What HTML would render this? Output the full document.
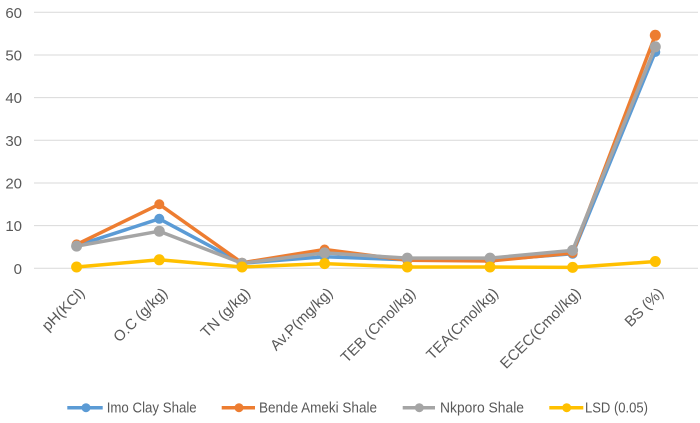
<!DOCTYPE html>
<html><head><meta charset="utf-8"><style>
html,body{margin:0;padding:0;background:#fff;}
svg{display:block;}
text{font-family:"Liberation Sans",sans-serif;fill:#595959;}
</style></head><body>
<svg width="700" height="423" viewBox="0 0 700 423" xmlns="http://www.w3.org/2000/svg">
<g stroke="#d9d9d9" stroke-width="1">
<line x1="34" y1="12.3" x2="698" y2="12.3"/>
<line x1="34" y1="55" x2="698" y2="55"/>
<line x1="34" y1="97.6" x2="698" y2="97.6"/>
<line x1="34" y1="140.3" x2="698" y2="140.3"/>
<line x1="34" y1="183" x2="698" y2="183"/>
<line x1="34" y1="225.6" x2="698" y2="225.6"/>
<line x1="34" y1="268.3" x2="698" y2="268.3"/>
</g>
<g font-size="15" text-anchor="end">
<text x="22" y="17.8">60</text>
<text x="22" y="60.5">50</text>
<text x="22" y="103.1">40</text>
<text x="22" y="145.8">30</text>
<text x="22" y="188.5">20</text>
<text x="22" y="231.1">10</text>
<text x="22" y="273.8">0</text>
</g>
<g font-size="15" text-anchor="end">
<text transform="translate(85.6,294) rotate(-45)">pH(KCl)</text>
<text transform="translate(168.3,294) rotate(-45)">O.C (g/kg)</text>
<text transform="translate(251,294) rotate(-45)">TN (g/kg)</text>
<text transform="translate(333.6,294) rotate(-45)">Av.P(mg/kg)</text>
<text transform="translate(416.3,294) rotate(-45)">TEB (Cmol/kg)</text>
<text transform="translate(499,294) rotate(-45)">TEA(Cmol/kg)</text>
<text transform="translate(581.6,294) rotate(-45)">ECEC(Cmol/kg)</text>
<text transform="translate(664.3,294) rotate(-45)">BS (%)</text>
</g>
<!-- Blue: Imo Clay Shale -->
<g stroke="#5B9BD5" fill="#5B9BD5">
<polyline fill="none" stroke-width="3.5" stroke-linejoin="round" points="76.6,245.7 159.3,218.8 242,263.2 324.6,256.8 407.3,259.8 490,260.2 572.6,253.8 655.3,52"/>
<g stroke="none">
<circle cx="76.6" cy="245.7" r="5"/><circle cx="159.3" cy="218.8" r="5"/><circle cx="242" cy="263.2" r="5"/><circle cx="324.6" cy="256.8" r="5"/><circle cx="407.3" cy="259.8" r="5"/><circle cx="490" cy="260.2" r="5"/><circle cx="572.6" cy="253.8" r="5"/><circle cx="655.3" cy="52" r="5"/>
</g></g>
<!-- Orange: Bende Ameki Shale -->
<g stroke="#ED7D31" fill="#ED7D31">
<polyline fill="none" stroke-width="3.5" stroke-linejoin="round" points="76.6,244.4 159.3,204.3 242,262.8 324.6,249.5 407.3,260.2 490,261 572.6,253 655.3,35.3"/>
<g stroke="none">
<circle cx="76.6" cy="244.4" r="5"/><circle cx="159.3" cy="204.3" r="5"/><circle cx="242" cy="262.8" r="5"/><circle cx="324.6" cy="249.5" r="5"/><circle cx="407.3" cy="260.2" r="5"/><circle cx="490" cy="261" r="5"/><circle cx="572.6" cy="253" r="5"/><circle cx="655.3" cy="35.3" r="5.5"/>
</g></g>
<!-- Grey: Nkporo Shale -->
<g stroke="#A5A5A5" fill="#A5A5A5">
<polyline fill="none" stroke-width="3.5" stroke-linejoin="round" points="76.6,246.1 159.3,231.2 242,263.2 324.6,252.9 407.3,258.1 490,258.1 572.6,250.4 655.3,46.8"/>
<g stroke="none">
<circle cx="76.6" cy="246.1" r="5.5"/><circle cx="159.3" cy="231.2" r="5.5"/><circle cx="242" cy="263.2" r="5.5"/><circle cx="324.6" cy="252.9" r="5.5"/><circle cx="407.3" cy="258.1" r="5.5"/><circle cx="490" cy="258.1" r="5.5"/><circle cx="572.6" cy="250.4" r="5.5"/><circle cx="655.3" cy="46.8" r="5.5"/>
</g></g>
<!-- Yellow: LSD -->
<g stroke="#FFC000" fill="#FFC000">
<polyline fill="none" stroke-width="3.5" stroke-linejoin="round" points="76.6,267 159.3,259.8 242,267 324.6,263.6 407.3,267 490,267 572.6,267.4 655.3,261.5"/>
<g stroke="none">
<circle cx="76.6" cy="267" r="5.5"/><circle cx="159.3" cy="259.8" r="5.5"/><circle cx="242" cy="267" r="5.5"/><circle cx="324.6" cy="263.6" r="5.5"/><circle cx="407.3" cy="267" r="5.5"/><circle cx="490" cy="267" r="5.5"/><circle cx="572.6" cy="267.4" r="5.5"/><circle cx="655.3" cy="261.5" r="5.5"/>
</g></g>
<!-- Legend -->
<g stroke-width="3.5">
<line x1="67.3" y1="407.7" x2="102.7" y2="407.7" stroke="#5B9BD5"/>
<circle cx="86" cy="407.7" r="4.5" fill="#5B9BD5"/>
<line x1="221.7" y1="407.7" x2="255" y2="407.7" stroke="#ED7D31"/>
<circle cx="239" cy="407.7" r="4.5" fill="#ED7D31"/>
<line x1="402.7" y1="407.7" x2="435" y2="407.7" stroke="#A5A5A5"/>
<circle cx="419.3" cy="407.7" r="4.5" fill="#A5A5A5"/>
<line x1="549.3" y1="407.7" x2="583.3" y2="407.7" stroke="#FFC000"/>
<circle cx="566.7" cy="407.7" r="4.5" fill="#FFC000"/>
</g>
<g font-size="14.5">
<text x="106.7" y="412.7" textLength="90" lengthAdjust="spacingAndGlyphs">Imo Clay Shale</text>
<text x="259" y="412.7" textLength="118" lengthAdjust="spacingAndGlyphs">Bende Ameki Shale</text>
<text x="440" y="412.7" textLength="84" lengthAdjust="spacingAndGlyphs">Nkporo Shale</text>
<text x="585" y="412.7" textLength="63" lengthAdjust="spacingAndGlyphs">LSD (0.05)</text>
</g>
</svg>
</body></html>
